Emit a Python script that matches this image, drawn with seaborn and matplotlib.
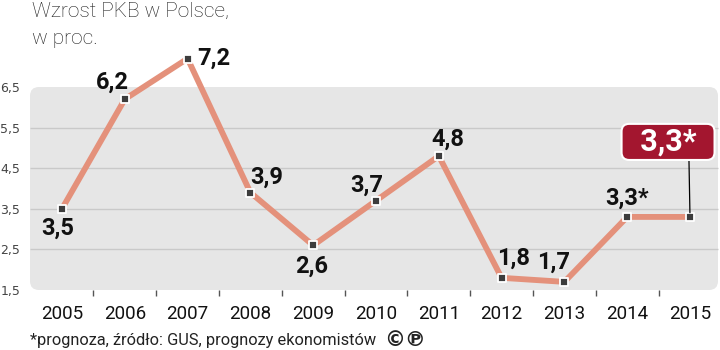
import matplotlib
matplotlib.use("Agg")
import matplotlib.pyplot as plt
from matplotlib.patches import FancyBboxPatch
from matplotlib.transforms import IdentityTransform
import seaborn as sns
import pandas as pd

# ---- data ----
years = [2005, 2006, 2007, 2008, 2009, 2010, 2011, 2012, 2013, 2014, 2015]
gdp = [3.5, 6.2, 7.2, 3.9, 2.6, 3.7, 4.8, 1.8, 1.7, 3.3, 3.3]
forecast = [False] * 9 + [True, True]
y_ticks = [1.5, 2.5, 3.5, 4.5, 5.5, 6.5]
title_lines = ["Wzrost PKB w Polsce,", "w proc."]
footnote = "*prognoza, źródło: GUS, prognozy ekonomistów"
highlight_label = "3,3*"

# label offsets (points) relative to each point, layout only
label_offsets = [(-3, -19), (-8.6, 7.2), (19, -4.3), (11.9, 6.5), (-1, -19.4),
                 (-6.5, 6.5), (6.8, 7.2), (8.6, 9.4), (-8, 9.4), (0, 8.6), None]

df = pd.DataFrame({"year": years, "gdp": gdp})

sns.set_theme(style="white")
plt.rcParams["font.family"] = ["Roboto", "DejaVu Sans"]

fig = plt.figure(figsize=(7.2, 3.5), dpi=100)
fig.patch.set_facecolor("white")
ax = fig.add_axes([30 / 720, 60 / 350, 690 / 720, 270 / 350])
ax.set_facecolor("none")
for s in ax.spines.values():
    s.set_visible(False)

xpx = 62.8
x0 = years[0] - 32 / xpx
x1 = years[0] + (720 - 62) / xpx
ax.set_xlim(x0, x1)
ax.set_ylim(1.5, 1.5 + 270 / 40.6)

# background panel
fig.canvas.draw()
p0 = ax.transData.transform((x0, y_ticks[0]))
p1 = ax.transData.transform((x1 - 2 / xpx, y_ticks[-1]))
panel = FancyBboxPatch((p0[0], p0[1]), p1[0] - p0[0], p1[1] - p0[1],
                       boxstyle="round,pad=0,rounding_size=9",
                       transform=IdentityTransform(), facecolor="#e6e6e6",
                       edgecolor="none", zorder=0)
ax.add_patch(panel)
ax.hlines(y_ticks[1:-1], x0, x1 - 2 / xpx, colors="#c9c9c9", lw=1, zorder=1)

sns.lineplot(data=df, x="year", y="gdp", color="#e4917b", lw=4.2, ax=ax,
             zorder=2, solid_capstyle="round")
sns.scatterplot(data=df, x="year", y="gdp", marker="s", s=38, color="#3d3d3d",
                edgecolor="white", linewidth=1.3, ax=ax, zorder=3)

# value labels
for yr, v, fc, off in zip(years, gdp, forecast, label_offsets):
    if off is None:
        continue
    txt = f"{v:.1f}".replace(".", ",") + ("*" if fc else "")
    ax.annotate(txt, (yr, v), xytext=off, textcoords="offset points",
                ha="center", va="baseline", fontsize=17, fontweight="bold",
                color="#111111", zorder=4)

# highlighted forecast box
ax.annotate("  " + highlight_label + "  ", (years[-1], gdp[-1]), xytext=(-15.8, 54),
            textcoords="offset points", ha="center", va="center",
            fontsize=22, fontweight="bold", color="white", zorder=5,
            bbox=dict(boxstyle="round,pad=0.1,rounding_size=0.25",
                      facecolor="#a3162f", edgecolor="white", lw=1.5),
            arrowprops=dict(arrowstyle="-", color="black", lw=0.9,
                            relpos=(0.74, 0), shrinkA=0, shrinkB=3))

# axes ticks
ax.set_xticks(years)
ax.set_xticklabels([str(y) for y in years], fontsize=13.5, color="#111111")
ax.set_xticks([y + 0.5 for y in years[:-1]], minor=True)
ax.tick_params(axis="x", which="major", length=0, pad=11)
ax.tick_params(axis="x", which="minor", length=4.5, width=1, color="#555555",
               direction="out", bottom=True)
ax.set_yticks(y_ticks)
ax.set_yticklabels([f"{t:.1f}".replace(".", ",") for t in y_ticks],
                   fontsize=9, color="#444444", family="DejaVu Sans")
ax.tick_params(axis="y", length=0, pad=7)
ax.set_xlabel("")
ax.set_ylabel("")

for i, line in enumerate(title_lines):
    fig.text(32 / 720, 1 - (2 + 27.5 * i) / 350, line, ha="left", va="top",
             fontsize=15, fontweight="light", color="#1c1c1c")
fig.text(30 / 720, 10 / 350, footnote, ha="left", va="center", fontsize=11.8,
         color="#222222")
fig.text(384 / 720, 10 / 350, "©℗", ha="left", va="center", fontsize=15,
         fontweight="bold", color="#222222", family="DejaVu Sans")

fig.savefig("out.png", dpi=100)
